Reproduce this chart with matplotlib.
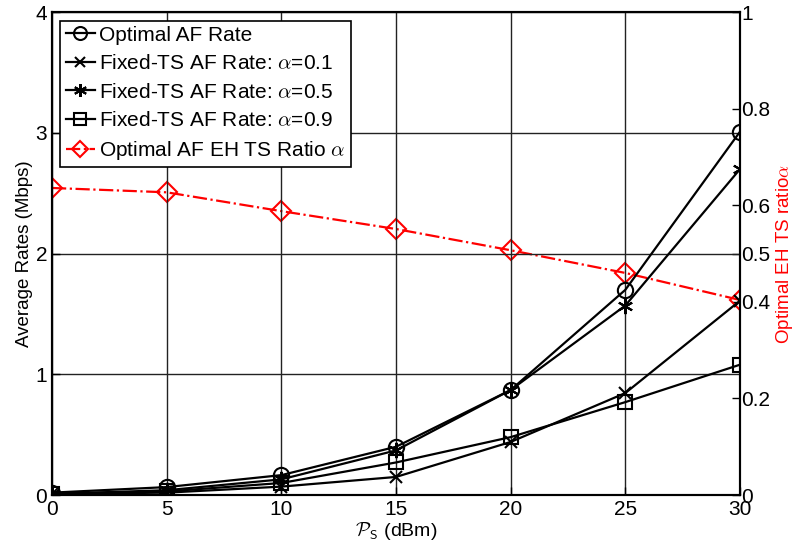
import numpy as np
import matplotlib.pyplot as plt

plt.rcParams['font.family'] = ['Liberation Sans', 'DejaVu Sans']
plt.rcParams['mathtext.fontset'] = 'cm'

ps = [0, 5, 10, 15, 20, 25, 30]
rate_opt = [0.02, 0.066, 0.165, 0.40, 0.87, 1.70, 3.01]
rate_a01 = [0.01, 0.02, 0.07, 0.15, 0.44, 0.845, 1.61]
rate_a05 = [0.01, 0.04, 0.13, 0.37, 0.87, 1.57, 2.70]
rate_a09 = [0.01, 0.03, 0.10, 0.27, 0.48, 0.77, 1.08]
ts_ratio = [0.636, 0.627, 0.588, 0.551, 0.507, 0.46, 0.404]

fig = plt.figure(figsize=(7.95, 5.55), dpi=100)
ax = fig.add_axes([0.0654, 0.108, 0.8654, 0.870])
ax2 = ax.twinx()

lw = 1.6
h1, = ax.plot(ps, rate_opt, 'k-', marker='o', mfc='none', ms=11, lw=lw, mew=1.5,
              label='Optimal AF Rate')
h2, = ax.plot(ps, rate_a01, 'k-', marker='x', ms=9, lw=lw, mew=1.5,
              label=r'Fixed-TS AF Rate: $\alpha$=0.1')
h3, = ax.plot(ps, rate_a05, 'k-', marker=(6, 2, 0), ms=11, lw=lw, mew=1.5,
              label=r'Fixed-TS AF Rate: $\alpha$=0.5')
h4, = ax.plot(ps, rate_a09, 'k-', marker='s', mfc='none', ms=9.5, lw=lw, mew=1.5,
              label=r'Fixed-TS AF Rate: $\alpha$=0.9')
h5, = ax2.plot(ps, ts_ratio, color='red', ls='-.', marker='D', mfc='none', ms=10,
               lw=lw, mew=1.5, label=r'Optimal AF EH TS Ratio $\alpha$')

ax.set_xlim(0, 30)
ax.set_ylim(0, 4)
ax2.set_ylim(0, 1)
ax.set_xticks(ps)
ax.set_yticks([0, 1, 2, 3, 4])
ax2.set_yticks([0, 0.2, 0.4, 0.5, 0.6, 0.8, 1])
ax2.set_yticklabels(['0', '0.2', '0.4', '0.5', '0.6', '0.8', '1'])

ax.grid(True, color='#222222', lw=1)
ax.tick_params(direction='in', labelsize=15, length=6, width=1)
ax2.tick_params(direction='in', labelsize=15, length=6, width=1, pad=1)
for sp in ax.spines.values():
    sp.set_linewidth(1.5)
for sp in ax2.spines.values():
    sp.set_linewidth(1.5)

ax.set_xlabel(r'$\mathcal{P}_\mathsf{S}$ (dBm)', fontsize=14, labelpad=1)
ax.set_ylabel('Average Rates (Mbps)', fontsize=13.5, labelpad=2)
ax2.set_ylabel(r'Optimal EH TS ratio$\alpha$', fontsize=13.5, color='red')
ax2.yaxis.label.set_va('center')
ax2.yaxis.set_label_coords(1.065, 0.5)

leg = ax.legend(handles=[h1, h2, h3, h4, h5], loc='upper left', fontsize=15,
                frameon=True, fancybox=False, edgecolor='black', framealpha=1,
                handlelength=1.4, handletextpad=0.2, borderpad=0.25,
                labelspacing=0.45, borderaxespad=0.4, markerscale=0.85)
leg.get_frame().set_linewidth(1.2)
ax.set_zorder(ax2.get_zorder() + 1)
ax.patch.set_visible(False)

fig.savefig('out.png', dpi=100)
